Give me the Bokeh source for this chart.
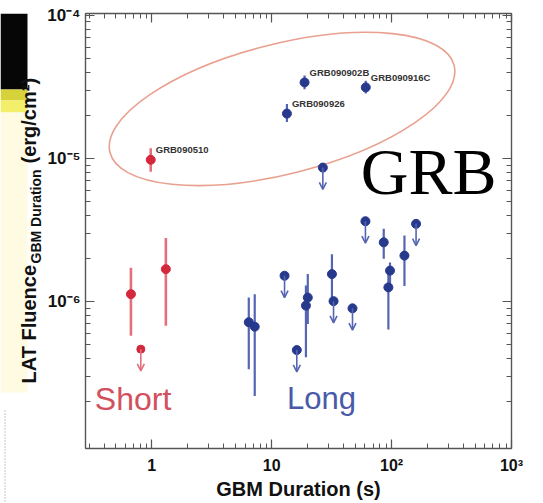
import math
from bokeh.plotting import figure
from bokeh.layouts import row
from bokeh.models import (ColumnDataSource, Arrow, OpenHead, Label, LogAxis, FixedTicker,
                          CustomJSTickFormatter, Range1d)
from bokeh.core.properties import value
from bokeh.embed import file_html
from bokeh.resources import INLINE

# ---------------- data ----------------
# Short GRBs, detections
short_dur = [0.98, 0.67, 1.31]
short_flu = [9.8e-6, 1.13e-6, 1.69e-6]
short_lo = [8.1e-6, 5.8e-7, 6.8e-7]
short_hi = [1.18e-5, 1.73e-6, 2.79e-6]
# Short GRBs, upper limits
short_ul_dur = [0.81]
short_ul_flu = [4.67e-7]

# Long GRBs, detections
long_dur = [18.8, 60.9, 13.4, 86.0, 128.0, 97.0, 94.0, 31.8, 20.0, 19.3, 6.44, 7.22]
long_flu = [3.4e-5, 3.14e-5, 2.06e-5, 2.6e-6, 2.1e-6, 1.65e-6, 1.26e-6, 1.56e-6, 1.07e-6, 9.4e-7, 7.2e-7, 6.7e-7]
long_lo = [3.05e-5, 2.85e-5, 1.8e-5, 2.0e-6, 1.29e-6, 1.3e-6, 6.4e-7, 1.01e-6, 7.0e-7, 4.1e-7, 3.38e-7, 2.2e-7]
long_hi = [3.8e-5, 3.5e-5, 2.4e-5, 3.24e-6, 2.9e-6, 1.88e-6, 1.6e-6, 2.15e-6, 1.56e-6, 1.3e-6, 1.07e-6, 1.13e-6]
# Long GRBs, upper limits
long_ul_dur = [26.7, 60.5, 160.0, 12.8, 32.8, 47.2, 16.2]
long_ul_flu = [8.65e-6, 3.65e-6, 3.5e-6, 1.52e-6, 1.01e-6, 9.0e-7, 4.6e-7]

# Named bright GRBs
grb_names = ["GRB090510", "GRB090902B", "GRB090926", "GRB090916C"]
grb_dur = [0.98, 18.8, 13.4, 60.9]
grb_flu = [9.8e-6, 3.4e-5, 2.06e-5, 3.14e-5]

x_ticks = [1, 10, 100, 1000]
y_ticks = [1e-6, 1e-5, 1e-4]

# y-axis title pieces (main text, subscript, unit)
ytitle_parts = ["LAT Fluence", "GBM Duration", "(erg/cm\u00b2)"]

# ---------------- styles ----------------
RED = "#d4283c"
RED_ERR = "#e4707e"
BLUE = "#27398c"
BLUE_ERR = "#5565b2"
AX = "#555555"
FONT = "Liberation Sans"
UL_RATIO = 1.42  # arrow length as a factor in fluence
H = 503
LW = 44   # width of the left strip holding the y title
OFF = 13  # the strip's frame is aligned with the chart frame top

p = figure(x_axis_type="log", y_axis_type="log", title=None,
           x_range=Range1d(0.28, 1000), y_range=Range1d(9.45e-8, 1.03e-4),
           frame_width=426, frame_height=435,
           min_border_left=84 - LW, min_border_right=33, min_border_top=13, min_border_bottom=55,
           output_backend="svg", toolbar_location=None,
           background_fill_color="white", border_fill_color="white")
p.grid.visible = False
p.outline_line_color = AX

minor_x = [k * 10.0 ** e for e in range(-1, 3) for k in range(2, 10)]
minor_y = [k * 10.0 ** e for e in range(-8, -4) for k in range(2, 10)]

fmt_js = """
const e = Math.round(Math.log10(tick));
if (e == 0) return "1";
if (e == 1) return "10";
const sup = {"-": "\u207b", "0": "\u2070", "1": "\u00b9", "2": "\u00b2", "3": "\u00b3",
             "4": "\u2074", "5": "\u2075", "6": "\u2076", "7": "\u2077", "8": "\u2078", "9": "\u2079"};
return "10" + String(e).split("").map(c => sup[c]).join("");
"""

def style_axis(ax):
    ax.axis_line_color = AX
    ax.axis_line_width = 1.4
    ax.major_tick_line_color = AX
    ax.minor_tick_line_color = AX
    ax.major_tick_in = 9
    ax.major_tick_out = 0
    ax.minor_tick_in = 5
    ax.minor_tick_out = 0
    ax.major_tick_line_width = 1.2
    ax.minor_tick_line_width = 1.0
    ax.major_label_text_font = FONT
    ax.major_label_text_font_style = "bold"
    ax.major_label_text_color = "#111111"

xa = p.xaxis[0]
xa.ticker = FixedTicker(ticks=x_ticks, minor_ticks=minor_x)
xa.formatter = CustomJSTickFormatter(code=fmt_js)
style_axis(xa)
xa.major_label_text_font_size = "16px"
xa.major_label_standoff = 8
xa.axis_label = "GBM Duration (s)"
xa.axis_label_text_font = FONT
xa.axis_label_text_font_style = "bold"
xa.axis_label_text_font_size = "20px"
xa.axis_label_text_color = "#111111"
xa.axis_label_standoff = 1

ya = p.yaxis[0]
ya.ticker = FixedTicker(ticks=y_ticks, minor_ticks=minor_y)
ya.formatter = CustomJSTickFormatter(code=fmt_js)
style_axis(ya)
ya.major_label_text_font_size = "17px"
ya.major_label_standoff = 5

top_ax = LogAxis(ticker=FixedTicker(ticks=x_ticks, minor_ticks=minor_x),
                 formatter=CustomJSTickFormatter(code="return '';"))
style_axis(top_ax)
top_ax.major_label_standoff = 0
p.add_layout(top_ax, "above")
right_ax = LogAxis(ticker=FixedTicker(ticks=y_ticks, minor_ticks=minor_y),
                   formatter=CustomJSTickFormatter(code="return '';"))
style_axis(right_ax)
right_ax.major_label_standoff = 0
p.add_layout(right_ax, "right")

# ---------------- ellipse around the bright GRBs ----------------
ell_src = ColumnDataSource(dict(x=[12.2], y=[2.22e-5]))
p.ellipse(x="x", y="y", width=355, height=130, width_units="screen", height_units="screen",
          angle=math.radians(14.2), fill_color=None, line_color="#e9a08f", line_width=1.6,
          source=ell_src)

# ---------------- error bars ----------------
s_src = ColumnDataSource(dict(x=short_dur, y=short_flu, lo=short_lo, hi=short_hi))
l_src = ColumnDataSource(dict(x=long_dur, y=long_flu, lo=long_lo, hi=long_hi))
p.segment(x0="x", y0="lo", x1="x", y1="hi", source=s_src, line_color=RED_ERR, line_width=2.6)
p.segment(x0="x", y0="lo", x1="x", y1="hi", source=l_src, line_color=BLUE_ERR, line_width=2.2)

# ---------------- upper limits ----------------
sul_src = ColumnDataSource(dict(x=short_ul_dur, y=short_ul_flu,
                                y_end=[v / UL_RATIO for v in short_ul_flu]))
lul_src = ColumnDataSource(dict(x=long_ul_dur, y=long_ul_flu,
                                y_end=[v / UL_RATIO for v in long_ul_flu]))
p.add_layout(Arrow(end=OpenHead(size=7, line_color=RED_ERR, line_width=1.6),
                   x_start="x", y_start="y", x_end="x", y_end="y_end",
                   line_color=RED_ERR, line_width=1.6, source=sul_src))
p.add_layout(Arrow(end=OpenHead(size=7, line_color=BLUE_ERR, line_width=1.6),
                   x_start="x", y_start="y", x_end="x", y_end="y_end",
                   line_color=BLUE_ERR, line_width=1.6, source=lul_src))

# ---------------- markers ----------------
p.scatter(x="x", y="y", source=s_src, size=9, fill_color=RED, line_color=RED)
p.scatter(x="x", y="y", source=sul_src, size=8, fill_color=RED, line_color=RED)
p.scatter(x="x", y="y", source=l_src, size=9, fill_color=BLUE, line_color=BLUE)
p.scatter(x="x", y="y", source=lul_src, size=9, fill_color=BLUE, line_color=BLUE)

# ---------------- GRB names ----------------
n_src = ColumnDataSource(dict(x=grb_dur, y=grb_flu, name=grb_names))
p.text(x="x", y="y", text="name", source=n_src, x_offset=5, y_offset=-10,
       text_font=value(FONT), text_font_style="bold", text_font_size="9.5px",
       text_color="#333333", text_baseline="middle", text_align="left")

# ---------------- class labels ----------------
p.add_layout(Label(x=0.335, y=2.1e-7, text="Short", text_font=FONT, text_font_size="32px",
                   text_color="#d2505e", text_baseline="alphabetic"))
p.add_layout(Label(x=13.4, y=2.1e-7, text="Long", text_font=FONT, text_font_size="31px",
                   text_color="#4a5aa8", text_baseline="alphabetic"))
p.add_layout(Label(x=55.3, y=8.1e-6, text="GRB", text_font="Liberation Serif",
                   text_font_size="66px", text_color="#000000", text_baseline="alphabetic"))

# ---------------- left strip: slide edge + y axis title ----------------
# y in this strip = H + OFF - (page pixel row)
left = figure(title=None, frame_width=LW, frame_height=H,
              x_range=Range1d(0, LW), y_range=Range1d(0, H),
              x_axis_type=None, y_axis_type=None,
              min_border_left=0, min_border_right=0, min_border_top=0, min_border_bottom=0,
              output_backend="svg", toolbar_location=None,
              background_fill_color="white", border_fill_color="white")
left.grid.visible = False
left.outline_line_color = None
B = H + OFF
left.quad(left=[0], right=[27], top=[H], bottom=[B - 89], fill_color="#060606", line_color=None)
left.quad(left=[0], right=[27], top=[B - 89], bottom=[B - 100], fill_color="#d8d23a", line_color=None)
left.quad(left=[0], right=[27], top=[B - 100], bottom=[B - 112], fill_color="#f3ef6a", line_color=None)
left.quad(left=[0], right=[27], top=[B - 112], bottom=[B - 392], fill_color="#fffbe3", line_color=None)
left.segment(x0=[4.5], y0=[B - 410], x1=[4.5], y1=[0], line_color="#8a8f9a", line_width=1,
             line_dash="1 2")

tsrc = ColumnDataSource(dict(x=[28.5, 35, 28.5], y=[B - 383, B - 263, B - 163],
                             text=ytitle_parts, size=["20px", "14px", "20px"]))
left.text(x="x", y="y", text="text", text_font_size="size", source=tsrc, angle=math.pi / 2,
          text_font=value(FONT), text_font_style="bold", text_color="#111111",
          text_align="left", text_baseline="alphabetic")

layout = row(left, p)
open("out.html", "w").write(file_html(layout, INLINE))
